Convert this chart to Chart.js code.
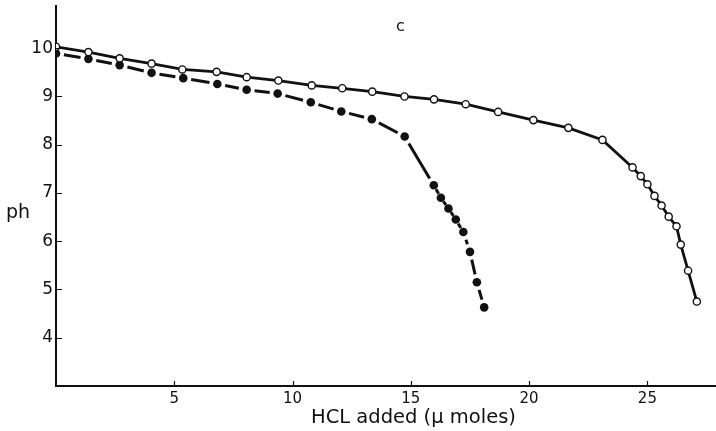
<!DOCTYPE html>
<html>
<head>
<meta charset="utf-8">
<script src="https://cdn.jsdelivr.net/npm/chart.js@4.4.0/dist/chart.umd.min.js"></script>
<style>
  html, body { margin: 0; padding: 0; background: #fff; }
  #wrap { width: 716px; height: 431px; }
</style>
</head>
<body>
<div id="wrap"><canvas id="phChart" width="716" height="431"></canvas></div>
<script>
// Titration data (HCL added in µmoles vs pH)
const openX = [0.0, 1.37, 2.69, 4.04, 5.34, 6.79, 8.06, 9.40, 10.81, 12.1, 13.37, 14.73, 15.98, 17.32, 18.69, 20.18, 21.66, 23.1, 24.37, 24.72, 25.0, 25.3, 25.6, 25.9, 26.23, 26.41, 26.72, 27.09];
const openPh = [10.03, 9.92, 9.79, 9.68, 9.56, 9.51, 9.40, 9.33, 9.23, 9.17, 9.10, 9.0, 8.94, 8.84, 8.68, 8.51, 8.35, 8.1, 7.53, 7.35, 7.18, 6.94, 6.74, 6.51, 6.31, 5.93, 5.39, 4.75];

const filledX = [0.0, 1.37, 2.69, 4.04, 5.38, 6.82, 8.06, 9.37, 10.77, 12.06, 13.35, 14.74, 15.97, 16.27, 16.59, 16.9, 17.22, 17.5, 17.79, 18.1];
const filledPh = [9.89, 9.78, 9.65, 9.49, 9.38, 9.26, 9.14, 9.06, 8.88, 8.69, 8.53, 8.17, 7.16, 6.90, 6.68, 6.45, 6.19, 5.78, 5.15, 4.63];

const xTickValues = [5, 10, 15, 20, 25];
const yTickValues = [4, 5, 6, 7, 8, 9, 10];

const FONT = "'DejaVu Sans', 'Liberation Sans', Arial, sans-serif";

// Zip x/y arrays into point objects
function toPoints(xs, ys) {
  return xs.map((x, i) => ({ x: x, y: ys[i] }));
}

// The broken line is drawn as one dash per segment, with a gap at each dot
function segmentDash(c) {
  const len = Math.hypot(c.p1.x - c.p0.x, c.p1.y - c.p0.y);
  let gap = 8;
  let dash = len - 2 * gap;
  if (dash < 4) {
    dash = Math.max(len * 0.35, 2);
    gap = (len - dash) / 2;
  }
  return { dash: [dash, 2 * gap + 1000], offset: -gap };
}

// Short tick marks pointing into the plot, panel letter and axis names
const extrasPlugin = {
  id: "extras",
  afterDraw(chart) {
    const ctx = chart.ctx;
    const xs = chart.scales.x;
    const ys = chart.scales.y;
    const area = chart.chartArea;
    ctx.save();
    ctx.strokeStyle = "#111";
    ctx.lineWidth = 1.2;
    ctx.beginPath();
    xTickValues.forEach((v) => {
      const px = Math.round(xs.getPixelForValue(v)) + 0.5;
      ctx.moveTo(px, area.bottom);
      ctx.lineTo(px, area.bottom - 5);
    });
    yTickValues.forEach((v) => {
      const py = Math.round(ys.getPixelForValue(v)) + 0.5;
      ctx.moveTo(area.left, py);
      ctx.lineTo(area.left + 6, py);
    });
    ctx.stroke();

    ctx.fillStyle = "#111";
    ctx.textBaseline = "middle";
    ctx.textAlign = "left";
    ctx.font = "16px " + FONT;
    ctx.fillText("c", 396, 27);
    ctx.font = "19px " + FONT;
    ctx.fillText("ph", 6, 213);
    ctx.font = "19.5px " + FONT;
    ctx.fillText("HCL added (\u03bc moles)", 311, 418);
    ctx.restore();
  },
};

function noPadding(scale) {
  scale.paddingLeft = 0;
  scale.paddingRight = 0;
  scale.paddingTop = 0;
  scale.paddingBottom = 0;
}

new Chart(document.getElementById("phChart"), {
  type: "scatter",
  data: {
    datasets: [
      {
        label: "open",
        data: toPoints(openX, openPh),
        showLine: true,
        borderColor: "#111",
        borderWidth: 2.8,
        tension: 0,
        pointRadius: 3.6,
        pointBackgroundColor: "#fff",
        pointBorderColor: "#111",
        pointBorderWidth: 1.4,
      },
      {
        label: "filled",
        data: toPoints(filledX, filledPh),
        showLine: true,
        borderColor: "#111",
        borderWidth: 3,
        borderCapStyle: "butt",
        tension: 0,
        pointRadius: 4.3,
        pointBackgroundColor: "#111",
        pointBorderColor: "#111",
        pointBorderWidth: 0,
        segment: {
          borderDash: (c) => segmentDash(c).dash,
          borderDashOffset: (c) => segmentDash(c).offset,
        },
      },
    ],
  },
  options: {
    responsive: false,
    animation: false,
    devicePixelRatio: 1,
    layout: { autoPadding: false, padding: { top: 6, right: 0, left: 0, bottom: 0 } },
    plugins: {
      legend: { display: false },
      tooltip: { enabled: false },
    },
    scales: {
      x: {
        type: "linear",
        min: 0,
        max: 27.9,
        afterBuildTicks: (scale) => {
          scale.ticks = xTickValues.map((v) => ({ value: v }));
        },
        afterFit: (scale) => {
          scale.height = 45;
          noPadding(scale);
        },
        grid: { display: false, drawTicks: false },
        border: { display: true, color: "#111", width: 2 },
        ticks: {
          color: "#111",
          padding: 4,
          maxRotation: 0,
          font: { family: FONT, size: 15 },
        },
      },
      y: {
        type: "linear",
        min: 3,
        max: 10.875,
        afterBuildTicks: (scale) => {
          scale.ticks = yTickValues.map((v) => ({ value: v }));
        },
        afterFit: (scale) => {
          scale.width = 56;
          noPadding(scale);
        },
        grid: { display: false, drawTicks: false },
        border: { display: true, color: "#111", width: 2 },
        ticks: {
          color: "#111",
          padding: 3,
          font: { family: FONT, size: 17 },
        },
      },
    },
  },
  plugins: [extrasPlugin],
});
</script>
</body>
</html>
